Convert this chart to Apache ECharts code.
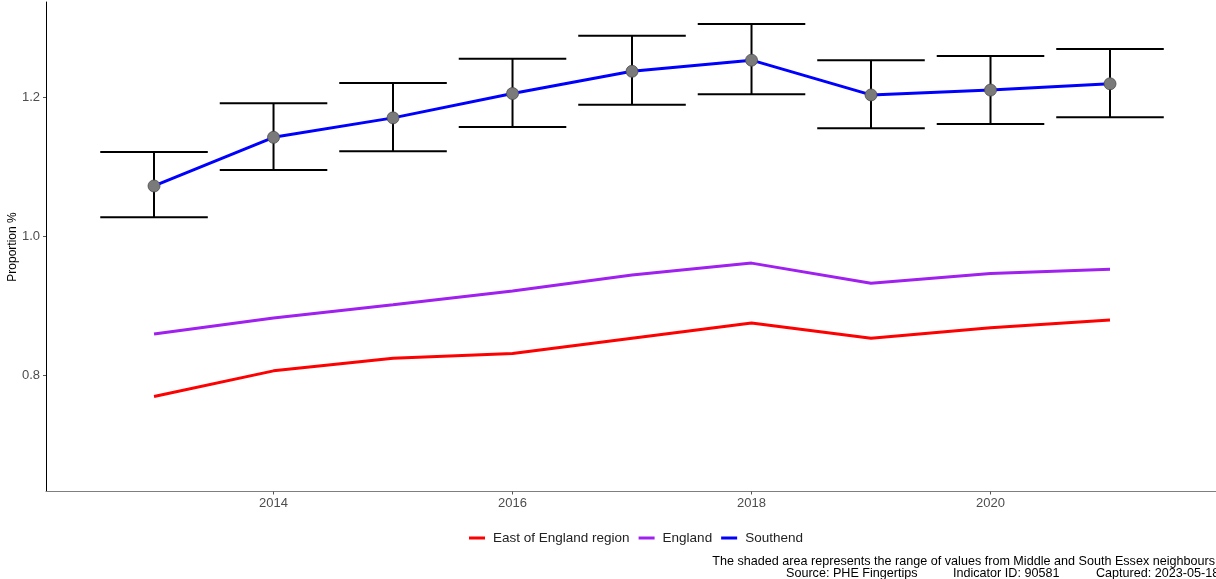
<!DOCTYPE html>
<html><head><meta charset="utf-8">
<script src="https://cdn.jsdelivr.net/npm/echarts@6/dist/echarts.min.js"></script>
<style>html,body{margin:0;padding:0;background:#fff}#c{width:1216px;height:579px}</style>
</head><body><div id="c"></div>
<script>
const years = [2013, 2014, 2015, 2016, 2017, 2018, 2019, 2020, 2021];
const eastOfEngland = [0.769, 0.806, 0.824, 0.831, 0.853, 0.875, 0.853, 0.868, 0.879];
const england = [0.859, 0.882, 0.901, 0.921, 0.944, 0.961, 0.932, 0.946, 0.952];
const southend = [1.072, 1.142, 1.170, 1.205, 1.237, 1.253, 1.203, 1.210, 1.219];
const southendLower = [1.027, 1.095, 1.122, 1.157, 1.189, 1.204, 1.155, 1.161, 1.171];
const southendUpper = [1.121, 1.191, 1.220, 1.255, 1.288, 1.305, 1.253, 1.259, 1.269];
const xTicks = [2014, 2016, 2018, 2020];
const yTicks = [0.8, 1.0, 1.2];

const chart = echarts.init(document.getElementById('c'), null, {renderer: 'canvas'});
const pair = arr => years.map((y, i) => [y, arr[i]]);
const errData = years.map((y, i) => [y, southendLower[i], southendUpper[i]]);
const font = 'Liberation Sans, Arial, sans-serif';

chart.setOption({
  animation: false,
  backgroundColor: '#fff',
  grid: {left: 46, right: 0, top: 2, bottom: 87.5, containLabel: false, outerBoundsMode: 'none'},
  xAxis: {
    type: 'value', min: 2012.096, max: 2021.887,
    axisLine: {show: true, lineStyle: {color: '#7f7f7f', width: 1.2}},
    axisTick: {show: true, length: 3, lineStyle: {color: '#555'}, customValues: xTicks},
    axisLabel: {color: '#4d4d4d', fontSize: 13, fontFamily: font, margin: 5, customValues: xTicks,
      formatter: v => String(v)},
    splitLine: {show: false}
  },
  yAxis: {
    type: 'value', min: 0.6324, max: 1.3367,
    axisLine: {show: true, lineStyle: {color: '#000', width: 1}},
    axisTick: {show: true, length: 3, lineStyle: {color: '#555'}, customValues: yTicks},
    axisLabel: {color: '#4d4d4d', fontSize: 13, fontFamily: font, margin: 6,
      customValues: yTicks, formatter: v => v.toFixed(1)},
    splitLine: {show: false}
  },
  legend: {
    top: 531, left: 469, padding: 0, itemGap: 9, itemWidth: 16, itemHeight: 3,
    icon: 'rect',
    textStyle: {color: '#222', fontSize: 13.5, fontFamily: font, padding: [0, 0, 0, 3]},
    data: [
      {name: 'East of England region', itemStyle: {color: '#ff0000'}},
      {name: 'England', itemStyle: {color: '#a020f0'}},
      {name: 'Southend', itemStyle: {color: '#0000ff'}}
    ]
  },
  graphic: [
    {type: 'text', x: 13, y: 247, rotation: Math.PI / 2, style: {text: 'Proportion %', fill: '#000', fontSize: 12, fontFamily: font, textAlign: 'center', textVerticalAlign: 'middle'}},
    {type: 'text', right: 1, top: 555, style: {text: 'The shaded area represents the range of values from Middle and South Essex neighbours', fill: '#000', fontSize: 12.6, fontFamily: font, textAlign: 'right'}},
    {type: 'text', left: 786, top: 567, style: {text: 'Source: PHE Fingertips', fill: '#000', fontSize: 12.6, fontFamily: font}},
    {type: 'text', left: 953, top: 567, style: {text: 'Indicator ID: 90581', fill: '#000', fontSize: 12.6, fontFamily: font}},
    {type: 'text', left: 1096, top: 567, style: {text: 'Captured: 2023-05-18', fill: '#000', fontSize: 12.6, fontFamily: font}}
  ],
  series: [
    {
      name: 'errbars', type: 'custom', z: 2, data: errData,
      renderItem: (params, api) => {
        const x = api.value(0), lo = api.value(1), hi = api.value(2);
        const pLo = api.coord([x, lo]), pHi = api.coord([x, hi]);
        const a = api.coord([x - 0.45, lo]), b = api.coord([x + 0.45, lo]);
        const st = {stroke: '#000', lineWidth: 2};
        return {type: 'group', children: [
          {type: 'line', shape: {x1: pLo[0], y1: pLo[1], x2: pHi[0], y2: pHi[1]}, style: st},
          {type: 'line', shape: {x1: a[0], y1: pLo[1], x2: b[0], y2: pLo[1]}, style: st},
          {type: 'line', shape: {x1: a[0], y1: pHi[1], x2: b[0], y2: pHi[1]}, style: st}
        ]};
      }
    },
    {name: 'East of England region', type: 'line', data: pair(eastOfEngland), showSymbol: false, symbol: 'none',
      lineStyle: {color: '#ff0000', width: 3}, itemStyle: {color: '#ff0000'}, z: 3},
    {name: 'England', type: 'line', data: pair(england), showSymbol: false, symbol: 'none',
      lineStyle: {color: '#a020f0', width: 3}, itemStyle: {color: '#a020f0'}, z: 3},
    {name: 'Southend', type: 'line', data: pair(southend), showSymbol: false, symbol: 'none',
      lineStyle: {color: '#0000ff', width: 3}, itemStyle: {color: '#0000ff'}, z: 4},
    {name: 'Southend points', type: 'scatter', data: pair(southend), symbol: 'circle', symbolSize: 12,
      itemStyle: {color: '#7a7a7a', borderColor: '#4a4a4a', borderWidth: 0.8, opacity: 1}, z: 5}
  ]
});
</script></body></html>
